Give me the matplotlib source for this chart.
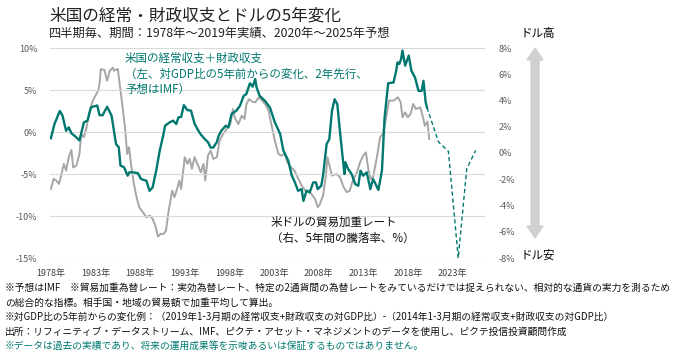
import matplotlib
matplotlib.use('Agg')
import matplotlib.pyplot as plt
import matplotlib.patches as mpatches
from matplotlib.transforms import IdentityTransform

plt.rcParams['font.family'] = ['Noto Sans CJK JP', 'DejaVu Sans']

TEAL = '#00786f'
GREY = '#a6a6a6'

# 米国の経常収支+財政収支（左軸、%）
green_years = [1978.0, 1978.4, 1979.0, 1979.3, 1979.7, 1980.0, 1980.3, 1980.65, 1981.2, 1981.7,
               1982.1, 1982.5, 1983.2, 1983.45, 1983.8, 1984.3, 1984.8, 1985.3, 1985.6, 1985.8,
               1986.2, 1986.6, 1986.8, 1987.2, 1987.75, 1988.1, 1988.7, 1989.05, 1989.4, 1989.8,
               1990.2, 1990.55, 1990.8, 1991.3, 1991.7, 1992.05, 1992.3, 1992.6, 1992.9, 1993.3,
               1993.7, 1994.1, 1994.5, 1994.8, 1995.25, 1995.6, 1995.9, 1996.2, 1996.6, 1996.8,
               1997.1, 1997.6, 1997.9, 1998.25, 1998.8, 1999.2, 1999.6, 1999.9, 2000.3, 2000.6,
               2000.9, 2001.05, 2001.4, 2002.0, 2002.55, 2003.1, 2003.7, 2004.05, 2004.6, 2005.0,
               2005.35, 2005.7, 2006.1, 2006.3, 2006.65, 2007.0, 2007.4, 2007.7, 2007.9, 2008.3,
               2008.5, 2008.9, 2009.2, 2009.5, 2009.8, 2010.1, 2010.5, 2010.9, 2011.0, 2011.3,
               2011.7, 2012.1, 2012.45, 2012.7, 2013.0, 2013.4, 2013.8, 2014.1, 2014.3, 2014.7,
               2015.1, 2015.4, 2015.8, 2016.4, 2016.7, 2016.85, 2017.05, 2017.25, 2017.4, 2017.7,
               2018.1, 2018.4, 2018.8, 2019.2, 2019.55, 2019.75, 2020.0, 2020.15]
green_vals = [-0.75, 0.95, 2.5, 1.95, 0.15, 0.55, -0.15, -0.45, -1.0, 1.15,
              1.35, 2.95, 3.15, 2.0, 2.0, 3.0, 1.95, -1.45, -1.8, -4.0,
              -4.2, -5.2, -4.8, -4.8, -4.9, -5.6, -5.8, -7.0, -6.6, -4.6,
              -2.2, -0.6, 0.75, 1.15, 1.35, 0.95, 1.75, 1.8, 3.2, 2.6,
              2.55, 1.0, 0.2, -0.3, -0.85, -1.2, -1.85, -1.85, -1.2, -0.45,
              0.15, 0.75, 0.55, 2.15, 2.55, 3.15, 4.3, 4.5, 5.8, 5.4,
              6.3, 5.3, 4.3, 3.7, 2.9, 1.15, -0.25, -2.2, -3.4, -5.2,
              -6.0, -7.0, -6.8, -8.2, -7.0, -7.2, -6.0, -6.0, -6.8, -6.4,
              -5.2, -1.45, -0.85, 2.5, 3.9, 3.3, -1.05, -5.0, -3.6, -4.4,
              -5.0, -6.2, -6.4, -4.6, -5.2, -4.8, -6.8, -5.6, -6.0, -6.9,
              -4.6, 1.75, 5.8, 5.9, 7.3, 8.3, 8.1, 8.7, 9.7, 7.9,
              9.1, 7.3, 6.5, 4.9, 4.9, 6.1, 3.55, 2.9]

# IMF予想（点線）
fc_years = [2020.15, 2021.45, 2022.55, 2023.65, 2024.6, 2025.6]
fc_vals = [2.9, -1.2, -2.3, -15.0, -4.4, -2.2]

# 米ドルの貿易加重レート（右軸、5年間の騰落率、%）
grey_years = [1978.0, 1978.3, 1978.6, 1978.9, 1979.15, 1979.45, 1979.7, 1980.0, 1980.3, 1980.5,
              1980.85, 1981.2, 1981.4, 1981.7, 1982.0, 1982.3, 1982.7, 1983.3, 1983.45, 1983.6,
              1984.0, 1984.3, 1984.6, 1984.95, 1985.1, 1985.5, 1985.9, 1986.3, 1986.55, 1986.75,
              1987.0, 1987.3, 1987.6, 1987.9, 1988.3, 1988.7, 1989.1, 1989.4, 1989.7, 1990.0,
              1990.3, 1990.65, 1990.9, 1991.2, 1991.6, 1991.85, 1992.2, 1992.4, 1992.6, 1993.0,
              1993.3, 1993.55, 1993.8, 1994.1, 1994.5, 1994.8, 1995.1, 1995.3, 1995.6, 1995.9,
              1996.2, 1996.6, 1996.9, 1997.3, 1997.7, 1998.1, 1998.4, 1998.6, 1999.0, 1999.4,
              1999.7, 1999.9, 2000.2, 2000.6, 2000.9, 2001.3, 2001.6, 2002.0, 2002.4, 2002.7,
              2003.1, 2003.5, 2003.8, 2004.2, 2004.5, 2004.9, 2005.3, 2005.65, 2006.1, 2006.5,
              2006.85, 2007.2, 2007.6, 2007.9, 2008.15, 2008.5, 2008.8, 2009.0, 2009.3, 2009.5,
              2010.0, 2010.4, 2010.8, 2011.15, 2011.5, 2011.9, 2012.3, 2012.65, 2013.0, 2013.3,
              2013.6, 2013.85, 2014.1, 2014.5, 2014.9, 2015.2, 2015.55, 2015.9, 2016.4, 2016.9,
              2017.2, 2017.4, 2017.7, 2018.0, 2018.3, 2018.6, 2018.9, 2019.4, 2019.7, 2019.9,
              2020.2, 2020.4]
grey_vals = [-2.74, -1.97, -2.1, -2.35, -1.72, -0.83, -1.34, -0.32, 0.23, -1.1,
             -0.96, -0.07, 1.45, 1.2, 1.96, 3.1, 3.99, 4.75, 5.26, 6.4,
             6.32, 5.5, 6.27, 6.5, 6.27, 6.4, 4.24, 1.96, -0.07, 0.44,
             -0.96, -2.36, -3.37, -4.13, -4.5, -4.9, -4.77, -5.02, -5.53, -6.37,
             -6.16, -6.16, -5.9, -4.39, -2.86, -3.37, -2.6, -2.1, -2.74, -0.32,
             -0.83, -0.45, -1.2, -0.32, -0.96, -1.47, -0.83, -2.1, -0.2, 0.18,
             -0.45, -0.32, 0.94, 1.45, 1.83, 2.2, 3.35, 2.7, 2.2, 2.85,
             2.6, 3.7, 4.1, 3.9, 3.86, 4.24, 4.04, 3.74, 3.23, 2.2,
             0.94, -0.07, -0.2, -0.07, -0.7, -1.09, -1.34, -1.85, -2.48, -2.86,
             -2.86, -3.12, -3.5, -4.13, -3.88, -3.24, -1.85, -0.32, -1.2, -1.72,
             -1.6, -1.85, -2.6, -2.99, -2.86, -1.97, -1.47, -0.71, -0.2, 0.05,
             -1.34, -1.97, -1.85, -0.45, 1.2, 1.45, 2.6, 3.99, 3.99, 4.24,
             3.86, 2.72, 3.1, 2.72, 2.97, 3.74, 3.35, 3.48, 2.72, 2.08,
             2.4, 1.07]

year_ticks = [1978, 1983, 1988, 1993, 1998, 2003, 2008, 2013, 2018, 2023]
left_ticks = [10, 5, 0, -5, -10, -15]
right_ticks = [8, 6, 4, 2, 0, -2, -4, -6, -8]

notes = [
    '※予想はIMF　※貿易加重為替レート：実効為替レート、特定の2通貨間の為替レートをみているだけでは捉えられない、相対的な通貨の実力を測るため',
    'の総合的な指標。相手国・地域の貿易額で加重平均して算出。',
    '※対GDP比の5年前からの変化例：（2019年1-3月期の経常収支+財政収支の対GDP比）-（2014年1-3月期の経常収支+財政収支の対GDP比）',
    '出所：リフィニティブ・データストリーム、IMF、ピクテ・アセット・マネジメントのデータを使用し、ピクテ投信投資顧問作成',
    '※データは過去の実績であり、将来の運用成果等を示唆あるいは保証するものではありません。',
]

W, H = 682, 357
fig = plt.figure(figsize=(W / 100, H / 100), dpi=100)


def fx(x):
    return x / W


def fy(y):
    return 1 - y / H


ax = fig.add_axes([fx(50), fy(258), fx(485) - fx(50), fy(48) - fy(258)])
ax2 = ax.twinx()
ax.set_zorder(ax2.get_zorder() + 1)
ax.patch.set_visible(False)

ax2.plot(grey_years, grey_vals, color=GREY, lw=1.4)
ax.plot(green_years, green_vals, color=TEAL, lw=1.7)
ax.plot(fc_years, fc_vals, color=TEAL, lw=1.0, ls=(0, (3, 2)))

ax.set_xlim(1977.9, 2026.65)
ax.set_ylim(-15, 10)
ax2.set_ylim(-8, 8)

ax.set_yticks(left_ticks)
ax.set_yticklabels([f'{v}%' for v in left_ticks])
ax2.set_yticks(right_ticks)
ax2.set_yticklabels([f'{v}%' for v in right_ticks])
ax.set_xticks(year_ticks)
ax.set_xticklabels([f'{y}年' for y in year_ticks])

ax.grid(axis='y', color='#d9d9d9', lw=0.8)
for a in (ax, ax2):
    for s in a.spines.values():
        s.set_visible(False)
ax.tick_params(axis='y', length=0, pad=9, labelsize=6.5, labelcolor='#595959')
ax2.tick_params(axis='y', length=0, pad=10, labelsize=6.5, labelcolor='#595959')
ax.tick_params(axis='x', length=0, pad=8, labelsize=6.5, labelcolor='#404040')

# タイトル
fig.text(fx(49), fy(16), '米国の経常・財政収支とドルの5年変化', fontsize=12, va='center', color='#222222')
fig.text(fx(49), fy(33), '四半期毎、期間：1978年～2019年実績、2020年～2025年予想', fontsize=8.8, va='center', color='#222222')

# 系列ラベル
fig.text(fx(125), fy(52), '米国の経常収支＋財政収支\n（左、対GDP比の5年前からの変化、2年先行、\n予想はIMF）',
         fontsize=8.3, va='top', color=TEAL, linespacing=1.25)
fig.text(fx(271), fy(216), '米ドルの貿易加重レート\n（右、5年間の騰落率、%）',
         fontsize=8.3, va='top', color='#111111', linespacing=1.3)

# ドル高・ドル安の矢印
cx, top, bot = 535, H - 48, H - 238
arrow = [(cx, top), (cx + 8, top - 12), (cx + 4, top - 12), (cx + 4, bot + 12), (cx + 8, bot + 12),
         (cx, bot), (cx - 8, bot + 12), (cx - 4, bot + 12), (cx - 4, top - 12), (cx - 8, top - 12)]
fig.patches.append(mpatches.Polygon(arrow, closed=True, color='#d0d0d0', transform=IdentityTransform(),
                                    figure=fig))
fig.text(fx(538), fy(33), 'ドル高', fontsize=8.3, ha='center', va='center')
fig.text(fx(538), fy(255), 'ドル安', fontsize=8.3, ha='center', va='center')

# 注記
note_y = [288, 302.5, 317, 331.5, 346]
for i, (t, y) in enumerate(zip(notes, note_y)):
    fig.text(fx(5), fy(y), t, fontsize=7.0, va='center',
             color=TEAL if i == len(notes) - 1 else '#111111')

fig.savefig('out.png', dpi=100)
